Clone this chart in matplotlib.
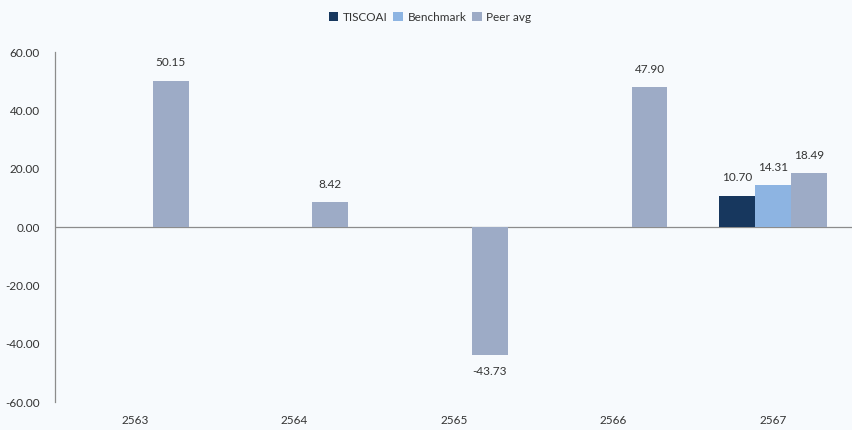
import numpy as np
import matplotlib.pyplot as plt

years = ['2563', '2564', '2565', '2566', '2567']
tiscoai = [np.nan, np.nan, np.nan, np.nan, 10.70]
benchmark = [np.nan, np.nan, np.nan, np.nan, 14.31]
peer_avg = [50.15, 8.42, -43.73, 47.90, 18.49]

series = [('TISCOAI', tiscoai, '#17375e'),
          ('Benchmark', benchmark, '#8db4e2'),
          ('Peer avg', peer_avg, '#9dabc6')]

bg = '#f7fafd'
plt.rcParams['font.family'] = ['Lato', 'DejaVu Sans']

fig = plt.figure(figsize=(8.53, 4.30), dpi=100, facecolor=bg)
ax = fig.add_axes([0.0645, 0.065, 0.9355, 0.814], facecolor=bg)

x = np.arange(len(years))
w = 0.225
for i, (name, vals, col) in enumerate(series):
    pos = x + (i - 1) * w
    ax.bar(pos, vals, width=w, color=col, label=name, zorder=2)
    for p, v in zip(pos, vals):
        if np.isnan(v):
            continue
        off = 9 if v >= 0 else -8
        ax.annotate(f'{v:.2f}', (p, v), xytext=(0, off), textcoords='offset points',
                    ha='center', va='bottom' if v >= 0 else 'top',
                    fontsize=8.5, color='#333333')

ax.set_xlim(-0.5, 4.5)
ax.set_ylim(-60, 60)
ax.set_yticks(np.arange(-60, 61, 20))
ax.set_yticklabels([f'{t:.2f}' for t in np.arange(-60, 61, 20)])
ax.set_xticks(x)
ax.set_xticklabels(years)
ax.axhline(0, color='#8c8c8c', lw=0.9, zorder=1)

for s in ['top', 'right', 'bottom']:
    ax.spines[s].set_visible(False)
ax.spines['left'].set_color('#8c8c8c')
ax.spines['left'].set_linewidth(0.9)
ax.tick_params(axis='both', length=0, labelsize=8.5, colors='#333333')
ax.tick_params(axis='y', pad=11)
ax.tick_params(axis='x', pad=9)

ax.legend(loc='center', bbox_to_anchor=(0.47, 1.1), ncol=3, frameon=False,
          fontsize=8.5, handlelength=0.8, handleheight=0.8, handletextpad=0.4,
          columnspacing=0.5, labelcolor='#333333')

fig.savefig('out.png', dpi=100, facecolor=bg)
